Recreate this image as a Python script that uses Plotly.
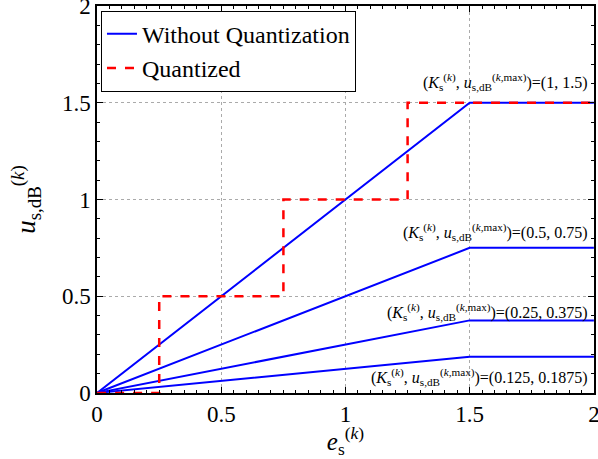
import plotly.graph_objects as go

# Data
gains = [1, 0.5, 0.25, 0.125]
e_points = [0, 1.5, 2]
u_max = [1.5, 0.75, 0.375, 0.1875]
q_x = [0, 0.25, 0.25, 0.75, 0.75, 1.25, 1.25, 2]
q_y = [0, 0, 0.5, 0.5, 1, 1, 1.5, 1.5]
tick_vals = [0, 0.5, 1, 1.5, 2]
tick_text = ["0", "0.5", "1", "1.5", "2"]
label_y = [1.61, 0.83, 0.42, 0.08]
label_pairs = ["(1, 1.5)", "(0.5, 0.75)", "(0.25, 0.375)", "(0.125, 0.1875)"]

FONT = "Liberation Serif, Times New Roman, serif"

fig = go.Figure()
for i, (k, um) in enumerate(zip(gains, u_max)):
    fig.add_trace(go.Scatter(
        x=e_points, y=[0, um, um], mode="lines",
        line=dict(color="#0000ff", width=2),
        name="Without Quantization", legendgroup="wq",
        showlegend=(i == 0)))
fig.add_trace(go.Scatter(
    x=q_x, y=q_y, mode="lines",
    line=dict(color="#ff0000", width=2.5, dash="dash"),
    name="Quantized"))

for ly, lp in zip(label_y, label_pairs):
    fig.add_annotation(
        x=1.985, y=ly, xref="x", yref="y", xanchor="right", yanchor="middle",
        text="(<i>K</i><sub>s</sub><sup>(<i>k</i>)</sup>, <i>u</i><sub>s,dB</sub><sup>(<i>k</i>,max)</sup>)=" + lp,
        showarrow=False, font=dict(family=FONT, size=16, color="black"))

axis_common = dict(
    range=[-0.0005, 2.0005], tickvals=tick_vals, ticktext=tick_text,
    showgrid=True, gridcolor="#aaaaaa", griddash="dot", gridwidth=1,
    showline=True, linecolor="black", linewidth=1.5, mirror="allticks",
    ticks="inside", ticklen=6, tickcolor="black",
    tickfont=dict(family=FONT, size=23, color="black"),
    zeroline=False, automargin=False, ticklabeloverflow="allow",
)
fig.update_xaxes(**axis_common,
                 minor=dict(dtick=0.05, ticks="inside", ticklen=3, tickcolor="black", showgrid=False),
                 title=dict(text="<i>e</i><sub>s</sub><sup>(<i>k</i>)</sup>",
                            font=dict(family=FONT, size=25, color="black"), standoff=0))
fig.update_yaxes(**axis_common,
                 minor=dict(dtick=0.1, ticks="inside", ticklen=3, tickcolor="black", showgrid=False),
                 title=dict(text="<i>u</i><sub>s,dB</sub><sup>(<i>k</i>)</sup>",
                            font=dict(family=FONT, size=27, color="black"), standoff=18))

fig.update_layout(
    width=598, height=459,
    margin=dict(l=97, r=4, t=6, b=66, autoexpand=False),
    plot_bgcolor="white", paper_bgcolor="white",
    font=dict(family=FONT, color="black"),
    legend=dict(x=0.008, y=0.988, xanchor="left", yanchor="top",
                bgcolor="white", bordercolor="black", borderwidth=1,
                font=dict(family=FONT, size=24, color="black"),
                tracegroupgap=0, itemwidth=30),
    showlegend=True,
)

fig.write_html("out.html", config={"displayModeBar": False},
               post_script="document.body.style.margin='0';document.body.style.overflow='hidden';")
